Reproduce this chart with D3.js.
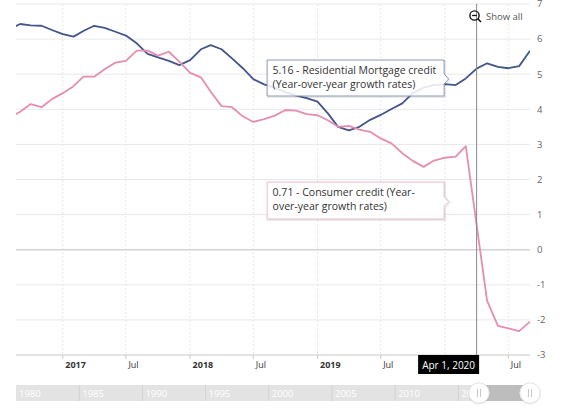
<!DOCTYPE html>
<html><head><meta charset="utf-8">
<script src="https://cdn.jsdelivr.net/npm/d3@7"></script>
<style>
html,body{margin:0;padding:0;background:#fff;}
svg{display:block;font-family:"Open Sans",sans-serif;}
</style></head><body>
<svg id="c" width="563" height="408"></svg>
<script>
// ---------- data ----------
const months = ["2016-08","2016-09","2016-10","2016-11","2016-12",
 "2017-01","2017-02","2017-03","2017-04","2017-05","2017-06","2017-07","2017-08","2017-09","2017-10","2017-11","2017-12",
 "2018-01","2018-02","2018-03","2018-04","2018-05","2018-06","2018-07","2018-08","2018-09","2018-10","2018-11","2018-12",
 "2019-01","2019-02","2019-03","2019-04","2019-05","2019-06","2019-07","2019-08","2019-09","2019-10","2019-11","2019-12",
 "2020-01","2020-02","2020-03","2020-04","2020-05","2020-06","2020-07","2020-08","2020-09"];
const mortgage = [6.29,6.43,6.39,6.38,6.26,
 6.14,6.07,6.23,6.38,6.32,6.21,6.10,5.88,5.58,5.48,5.38,5.26,
 5.40,5.71,5.83,5.71,5.45,5.17,4.86,4.71,4.61,4.49,4.39,4.32,
 4.22,3.87,3.50,3.40,3.50,3.70,3.84,4.01,4.17,4.46,4.62,4.69,
 4.72,4.69,4.88,5.16,5.31,5.21,5.17,5.23,5.67];
const consumer = [3.76,3.93,4.15,4.06,4.29,
 4.46,4.66,4.93,4.93,5.14,5.33,5.38,5.67,5.67,5.53,5.64,5.36,
 5.04,4.91,4.50,4.09,4.06,3.80,3.64,3.72,3.82,3.98,3.96,3.86,
 3.83,3.68,3.50,3.53,3.42,3.36,3.17,3.03,2.75,2.53,2.36,2.54,
 2.62,2.65,2.95,0.71,-1.45,-2.17,-2.24,-2.32,-2.05];
const seriesNames = ["Residential Mortgage credit","Consumer credit"];
const seriesUnit = "(Year-over-year growth rates)";
const yTicks = [-3,-2,-1,0,1,2,3,4,5,6,7];
const xTicks = ["2017-01-01","2017-07-01","2018-01-01","2018-07-01","2019-01-01","2019-07-01","2020-01-01","2020-07-01"];
const navYears = [1980,1985,1990,1995,2000,2005,2010,2015];
const viewStart = "2016-08-20", viewEnd = "2020-09-01";
const navStart = "1980-01-01";
const hoverMonth = "2020-04";

// ---------- layout ----------
const L=16, R=530, T=4, B=355;
const parseM = d3.utcParse("%Y-%m");
const parseD = d3.utcParse("%Y-%m-%d");
const svg = d3.select("#c");
const x = d3.scaleUtc().domain([parseD(viewStart), parseD(viewEnd)]).range([L,R]);
const y = d3.scaleLinear().domain([-3,7]).range([B,T]);
const colors = ["#43558a","#e68db1"];

const hi = months.indexOf(hoverMonth);
const hd = parseM(hoverMonth);
const xc = x(hd);
const lblL = xc-58.5, lblW = 61;

// grid
svg.append("g").selectAll("line").data(xTicks).join("line")
  .attr("x1",d=>x(parseD(d))).attr("x2",d=>x(parseD(d)))
  .attr("y1",T).attr("y2",B)
  .attr("stroke","#e8e8e8").attr("stroke-dasharray","2,2");
svg.append("g").selectAll("line").data(yTicks.filter(t=>t>-3)).join("line")
  .attr("x1",L).attr("x2",R)
  .attr("y1",d=>y(d)).attr("y2",d=>y(d))
  .attr("stroke",d=>d===0?"#d4d4d4":"#e8e8e8")
  .attr("stroke-width",d=>d===0?1.6:1);

// y labels
svg.append("g").selectAll("text").data(yTicks).join("text")
  .attr("x",537).attr("y",d=>y(d)).attr("dy","0.35em")
  .attr("font-size","9.5px").attr("fill","#666")
  .text(d=>d);

// clip
svg.append("clipPath").attr("id","clip").append("rect")
  .attr("x",L).attr("y",0).attr("width",R-L).attr("height",B);

const series = [mortgage, consumer].map(vals => months.map((m,i)=>({date:parseM(m), v:vals[i]})));
const line = d3.line().x(d=>x(d.date)).y(d=>y(d.v));
svg.append("g").attr("clip-path","url(#clip)").selectAll("path").data(series).join("path")
  .attr("d",line).attr("fill","none")
  .attr("stroke",(d,i)=>colors[i]).attr("stroke-width",1.8)
  .attr("stroke-linejoin","round");

// x axis
svg.append("line").attr("x1",L).attr("x2",R).attr("y1",B).attr("y2",B)
  .attr("stroke","#c8c8c8").attr("stroke-width",1.2);
svg.append("g").selectAll("line").data(xTicks).join("line")
  .attr("x1",d=>x(parseD(d))).attr("x2",d=>x(parseD(d)))
  .attr("y1",B).attr("y2",B+4).attr("stroke","#c8c8c8");
// labels hidden under the crosshair date label are not drawn (as in the reference)
const visibleTicks = xTicks.filter(d=>{const px=x(parseD(d)); return !(px+2.5>lblL && px+2.5<lblL+lblW);});
svg.append("g").selectAll("text").data(visibleTicks).join("text")
  .attr("x",d=>x(parseD(d))+2.5).attr("y",368)
  .attr("font-size","9px").attr("fill","#333")
  .attr("font-weight",d=>parseD(d).getUTCMonth()===0?"bold":"normal")
  .text(d=>{const dt=parseD(d);return dt.getUTCMonth()===0?d3.utcFormat("%Y")(dt):d3.utcFormat("%b")(dt);});

// crosshair
svg.append("line").attr("x1",xc).attr("x2",xc).attr("y1",T).attr("y2",B)
  .attr("stroke","#8a8a8a").attr("stroke-width",1);
svg.append("rect").attr("x",lblL).attr("y",355).attr("width",lblW).attr("height",19).attr("fill","#000");
svg.append("text").attr("x",xc-28).attr("y",368.5).attr("text-anchor","middle")
  .attr("font-size","10px").attr("fill","#fff")
  .text(d3.utcFormat("%b %-d, %Y")(hd));

// tooltips
const tipBoxes = [{top:60,h:36,ny:79,border:"#8e98b6"},{top:182,h:37,ny:201.5,border:"#e9bccd"}];
const boxR = xc-32.5, boxW = 177, boxL = boxR-boxW;
function wrapLines(str, maxW, measure){
  const tokens = str.match(/[^\s-]*-|[^\s-]+|\s+/g);
  const lines=[]; let cur="";
  tokens.forEach(t=>{
    const test = cur+t;
    if(cur.trim() && measure(test.trimEnd())>maxW){ lines.push(cur.trimEnd()); cur=t.trimStart(); }
    else cur=test;
  });
  if(cur.trim()) lines.push(cur.trimEnd());
  return lines;
}
const meas = svg.append("text").attr("font-size","10.5px").attr("x",-1000).attr("y",-1000);
const measure = s => { meas.text(s); return meas.node().getComputedTextLength(); };
const heads = [mortgage, consumer].map((vals,i)=>`${vals[hi].toFixed(2)} - ${seriesNames[i]}`);
const wrapW = measure(heads[0]) + 1;
[mortgage, consumer].forEach((vals,i)=>{
  const b = tipBoxes[i];
  const g = svg.append("g");
  const t=b.top, bt=b.top+b.h;
  const p = `M${boxL},${t} L${boxR},${t} L${boxR},${b.ny-5} L${boxR+4.5},${b.ny} L${boxR},${b.ny+5} L${boxR},${bt} L${boxL},${bt} Z`;
  g.append("path").attr("d",p).attr("transform","translate(1,1)").attr("fill","none")
    .attr("stroke","rgba(0,0,0,0.08)").attr("stroke-width",2);
  g.append("path").attr("d",p).attr("fill","rgba(255,255,255,0.86)")
    .attr("stroke",b.border).attr("stroke-width",1);
  const str = `${heads[i]} ${seriesUnit}`;
  const lines = wrapLines(str, wrapW, measure);
  g.append("text").attr("font-size","10.5px").attr("fill","#333")
    .selectAll("tspan").data(lines).join("tspan")
    .attr("x",boxL+5.5).attr("y",(d,j)=>t+13.5+j*14.5).text(d=>d);
});
meas.remove();

// show all button
const sb = svg.append("g").attr("transform","translate(474.5,15.5)");
sb.append("circle").attr("r",4.6).attr("fill","none").attr("stroke","#111").attr("stroke-width",1.4);
sb.append("line").attr("x1",-2.4).attr("x2",2.4).attr("y1",0).attr("y2",0).attr("stroke","#111").attr("stroke-width",1.3);
sb.append("line").attr("x1",3.3).attr("y1",3.3).attr("x2",6.5).attr("y2",6.5).attr("stroke","#111").attr("stroke-width",1.6);
svg.append("text").attr("x",486).attr("y",19.5).attr("font-size","9.5px").attr("fill","#555").text("Show all");

// navigator
const nx = d3.scaleUtc().domain([parseD(navStart), parseD(viewEnd)]).range([L,R]);
svg.append("rect").attr("x",L).attr("y",385).attr("width",R-L).attr("height",16).attr("fill","#e3e3e3");
const sx = nx(parseD(viewStart));
svg.append("rect").attr("x",sx).attr("y",385).attr("width",R-sx).attr("height",16).attr("fill","#bdbdbd");
svg.append("g").selectAll("line").data(navYears.slice(1)).join("line")
  .attr("x1",d=>nx(new Date(Date.UTC(d,0,1)))).attr("x2",d=>nx(new Date(Date.UTC(d,0,1))))
  .attr("y1",385).attr("y2",401).attr("stroke","#d2d2d2");
svg.append("g").selectAll("text").data(navYears).join("text")
  .attr("x",d=>nx(new Date(Date.UTC(d,0,1)))+3).attr("y",397)
  .attr("font-size","9.5px").attr("fill","#fff").text(d=>d);
[sx, R].forEach(hx=>{
  const h = svg.append("g").attr("transform",`translate(${hx},393)`);
  h.append("circle").attr("r",11).attr("fill","rgba(0,0,0,0.06)").attr("cy",0.8);
  h.append("circle").attr("r",10.2).attr("fill","#fff").attr("stroke","#e4e4e4");
  [-1.6,1.6].forEach(o=>h.append("line").attr("x1",o).attr("x2",o).attr("y1",-4).attr("y2",4).attr("stroke","#c4c4c4").attr("stroke-width",1));
});
</script>
</body></html>
